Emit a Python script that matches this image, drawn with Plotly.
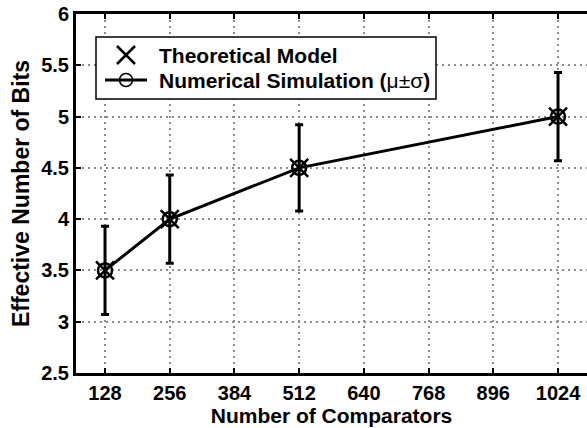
import plotly.graph_objects as go

# Data
comparators = [128, 256, 512, 1024]
theory_enob = [3.5, 4.0, 4.5, 5.0]
sim_mean = [3.5, 4.0, 4.5, 5.0]
sim_std = [0.43, 0.43, 0.42, 0.43]

x_ticks = [128, 256, 384, 512, 640, 768, 896, 1024]
y_ticks = [2.5, 3, 3.5, 4, 4.5, 5, 5.5, 6]
y_ticklabels = ["2.5", "3", "3.5", "4", "4.5", "5", "5.5", "6"]
legend_labels = [
    "<b>Theoretical Model</b>",
    "<b>Numerical Simulation (</b><span style='font-weight:normal'>μ±σ</span><b>)</b>",
]

FONT = "Liberation Sans, Arial, Helvetica, sans-serif"
W, H = 587, 428
ML, MR, MT, MB = 76, 0, 14, 55
PW, PH = W - ML - MR, H - MT - MB


def px(xp):
    return (xp - ML) / PW


def py(yp):
    return (H - MB - yp) / PH


fig = go.Figure()

fig.add_trace(go.Scatter(
    x=comparators, y=theory_enob, mode="markers",
    name="Theoretical Model",
    marker=dict(symbol="x-thin", size=18, color="black",
                line=dict(width=2.5, color="black")),
))

fig.add_trace(go.Scatter(
    x=comparators, y=sim_mean, mode="lines+markers",
    name="Numerical Simulation",
    line=dict(color="black", width=3),
    marker=dict(symbol="circle-open", size=14, color="black",
                line=dict(width=2.5, color="black")),
    error_y=dict(type="data", array=sim_std, visible=True,
                 color="black", thickness=3, width=4),
))

# Custom legend box (matches the compact row spacing of the original)
bx0, bx1, by0, by1 = 96, 436, 37, 99
row1, row2 = 55, 80
sym_cx = 126
shapes = [
    dict(type="rect", xref="paper", yref="paper", layer="above",
         x0=px(bx0), x1=px(bx1), y0=py(by1), y1=py(by0),
         line=dict(color="black", width=1.5), fillcolor="white"),
    # X symbol
    dict(type="line", xref="paper", yref="paper", layer="above",
         x0=px(sym_cx - 9), x1=px(sym_cx + 9), y0=py(row1 - 9), y1=py(row1 + 9),
         line=dict(color="black", width=2.5)),
    dict(type="line", xref="paper", yref="paper", layer="above",
         x0=px(sym_cx - 9), x1=px(sym_cx + 9), y0=py(row1 + 9), y1=py(row1 - 9),
         line=dict(color="black", width=2.5)),
    # line + circle symbol
    dict(type="line", xref="paper", yref="paper", layer="above",
         x0=px(105), x1=px(147), y0=py(row2), y1=py(row2),
         line=dict(color="black", width=3)),
    dict(type="circle", xref="paper", yref="paper", layer="above",
         x0=px(sym_cx - 6.5), x1=px(sym_cx + 6.5), y0=py(row2 + 6.5), y1=py(row2 - 6.5),
         line=dict(color="black", width=1.5), fillcolor="rgba(0,0,0,0)"),
]
annotations = [
    dict(text=legend_labels[0], xref="paper", yref="paper", x=px(157), y=py(row1),
         xanchor="left", yanchor="middle", showarrow=False,
         font=dict(family=FONT, size=21, color="black")),
    dict(text=legend_labels[1], xref="paper", yref="paper", x=px(157), y=py(row2),
         xanchor="left", yanchor="middle", showarrow=False,
         font=dict(family=FONT, size=21, color="black")),
]

grid = dict(showgrid=True, gridcolor="#8c8c8c", gridwidth=1.5, griddash="2px,4px")

fig.update_layout(
    width=W, height=H,
    margin=dict(l=ML, r=MR, t=MT, b=MB),
    paper_bgcolor="white", plot_bgcolor="white",
    font=dict(family=FONT, size=20, color="black"),
    showlegend=False,
    shapes=shapes,
    annotations=annotations,
    xaxis=dict(
        range=[70.6, 1081.3],
        tickvals=x_ticks, ticktext=[str(v) for v in x_ticks],
        ticks="inside", ticklen=5, tickwidth=2, tickcolor="black",
        showline=True, linecolor="black", linewidth=3, mirror="ticks",
        zeroline=False,
        tickfont=dict(family=FONT, size=20, weight="bold"),
        title=dict(text="<b>Number of Comparators</b>", standoff=4,
                   font=dict(family=FONT, size=21)),
        **grid,
    ),
    yaxis=dict(
        range=[2.5, 6],
        tickvals=y_ticks, ticktext=y_ticklabels,
        ticks="inside", ticklen=5, tickwidth=2, tickcolor="black",
        showline=True, linecolor="black", linewidth=3, mirror=False,
        zeroline=False,
        tickfont=dict(family=FONT, size=20, weight="bold"),
        title=dict(text="<b>Effective Number of Bits</b>", standoff=6,
                   font=dict(family=FONT, size=23)),
        **grid,
    ),
)

fig.write_html("out.html")
